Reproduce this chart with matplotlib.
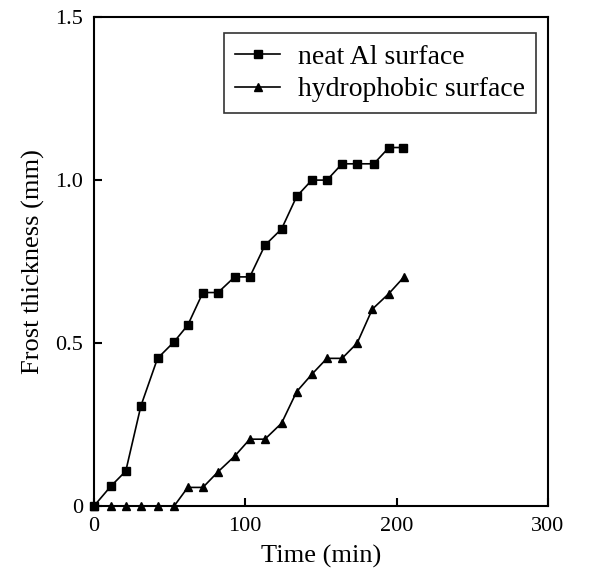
import matplotlib
matplotlib.use("Agg")
import matplotlib.pyplot as plt

plt.rcParams['font.family'] = ['Liberation Serif', 'DejaVu Serif']

# Data
time_neat = [0, 11, 21, 31, 42, 53, 62, 72, 82, 93, 103, 113, 124, 134, 144, 154, 164, 174, 185, 195, 204]
thick_neat = [0.0, 0.06, 0.107, 0.307, 0.453, 0.504, 0.555, 0.655, 0.655, 0.703, 0.703, 0.80, 0.85, 0.95,
              1.0, 1.0, 1.05, 1.05, 1.05, 1.10, 1.10]

time_hydro = [0, 11, 21, 31, 42, 53, 62, 72, 82, 93, 103, 113, 124, 134, 144, 154, 164, 174, 184, 195, 205]
thick_hydro = [0.0, 0.0, 0.0, 0.0, 0.0, 0.0, 0.057, 0.057, 0.105, 0.153, 0.205, 0.205, 0.254, 0.351,
               0.404, 0.453, 0.453, 0.50, 0.604, 0.652, 0.703]

x_ticks = [0, 100, 200, 300]
y_ticks = [0, 0.5, 1.0, 1.5]
y_tick_labels = ["0", "0.5", "1.0", "1.5"]

fig = plt.figure(figsize=(5.89, 5.72), dpi=100)
ax = fig.add_axes([0.1596, 0.1154, 0.7704, 0.8546])

ax.plot(time_neat, thick_neat, color='black', linewidth=1.2, marker='s', markersize=5.5,
        label='neat Al surface', clip_on=False, zorder=3)
ax.plot(time_hydro, thick_hydro, color='black', linewidth=1.2, marker='^', markersize=5.5,
        label='hydrophobic surface', clip_on=False, zorder=3)

ax.set_xlim(0, 300)
ax.set_ylim(0, 1.5)
ax.set_xticks(x_ticks)
ax.set_yticks(y_ticks)
ax.set_yticklabels(y_tick_labels)
ax.tick_params(direction='in', length=6, width=1.5, labelsize=16, pad=8)
for spine in ax.spines.values():
    spine.set_linewidth(1.5)

ax.set_xlabel("Time (min)", fontsize=19, labelpad=6)
ax.set_ylabel("Frost thickness (mm)", fontsize=19, labelpad=7)

leg = ax.legend(loc='upper right', bbox_to_anchor=(0.974, 0.967), fontsize=20, frameon=True,
                fancybox=False, edgecolor='black', handlelength=1.6, borderpad=0.4,
                labelspacing=0.25, handletextpad=0.65, borderaxespad=0)
leg.get_frame().set_linewidth(1.2)

fig.savefig("out.png", dpi=100)
